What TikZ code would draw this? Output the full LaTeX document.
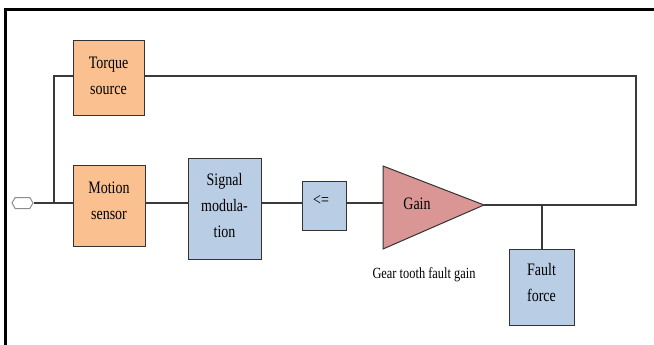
\documentclass[tikz,border=0pt]{standalone}
\usepackage{fontspec}
\setmainfont{Liberation Serif}[FakeStretch=0.8]
\usetikzlibrary{shapes.symbols}
\definecolor{orangefill}{HTML}{FAC090}
\definecolor{bluefill}{HTML}{B9CDE5}
\definecolor{pinkfill}{HTML}{D99694}
\definecolor{wire}{HTML}{3A3A3A}
\begin{document}
\begin{tikzpicture}[x=1pt,y=-1pt,
  blk/.style={draw=black!80, line width=1pt, inner sep=0pt},
  txt/.style={font=\fontsize{17.5}{26}\selectfont, align=center, text=black, inner sep=0pt},
  lbl/.style={font=\fontsize{15.5}{18}\selectfont, text=black, inner sep=0pt},
  wirestyle/.style={draw=wire, line width=1.1pt},
  port/.style={draw=black!45, fill=white, line width=1pt, signal, signal to=east and west,
     signal pointer angle=120, minimum width=21pt, minimum height=11pt, inner sep=0pt}
]
\useasboundingbox (0,0) rectangle (654,345);
% frame
\draw[line width=2.5pt] (5.5,345) -- (5.5,9.5) -- (654,9.5);

% blocks
\node[blk, fill=orangefill, minimum width=71pt, minimum height=75pt,
  label={[txt, yshift=3pt]center:Torque\\source}] (torque) at (108.5,78.5) {};
\node[blk, fill=orangefill, minimum width=72pt, minimum height=81pt,
  label={[txt, yshift=5pt]center:Motion\\sensor}] (motion) at (109,205.5) {};
\node[blk, fill=bluefill, minimum width=73pt, minimum height=101pt,
  label={[txt, yshift=3pt]center:Signal\\modula-\\tion}] (sig) at (224.5,208.5) {};
\node[blk, fill=bluefill, minimum width=44pt, minimum height=49pt,
  label={[txt, xshift=-3pt, yshift=5pt]center:<=}] (le) at (324,205.5) {};
\node[blk, fill=bluefill, minimum width=65pt, minimum height=76pt,
  label={[txt, yshift=4pt]center:Fault\\force}] (fault) at (541.5,287) {};

% gain triangle
\coordinate (gT) at (383,166);
\coordinate (gB) at (383,249);
\coordinate (gTip) at (484,205);
\coordinate (gIn) at (383,203);
\draw[blk, fill=pinkfill] (gT) -- (gTip) -- (gB) -- cycle;
\node[txt] (gaintxt) at (417,204) {Gain};
\node[lbl] (gainlbl) at (424,275) {Gear tooth fault gain};

% port
\node[port] (port) at (22.5,203) {};

% wires
\coordinate (jL) at (54,203);
\coordinate (jLtop) at (54,76);
\coordinate (rTop) at (636,76);
\coordinate (rBot) at (636,205);
\coordinate (jF) at (542,205);
\draw[wirestyle] (port.east) -- (motion.west |- port.east);
\draw[wirestyle] (jL) -- (jLtop) -- (torque.west |- jLtop);
\draw[wirestyle] (torque.east |- jLtop) -- (rTop) -- (rBot) -- (gTip);
\draw[wirestyle] (motion.east |- jL) -- (sig.west |- jL);
\draw[wirestyle] (sig.east |- jL) -- (le.west |- jL);
\draw[wirestyle] (le.east |- jL) -- (gIn);
\draw[wirestyle] (jF) -- (jF |- fault.north);
\end{tikzpicture}
\end{document}
